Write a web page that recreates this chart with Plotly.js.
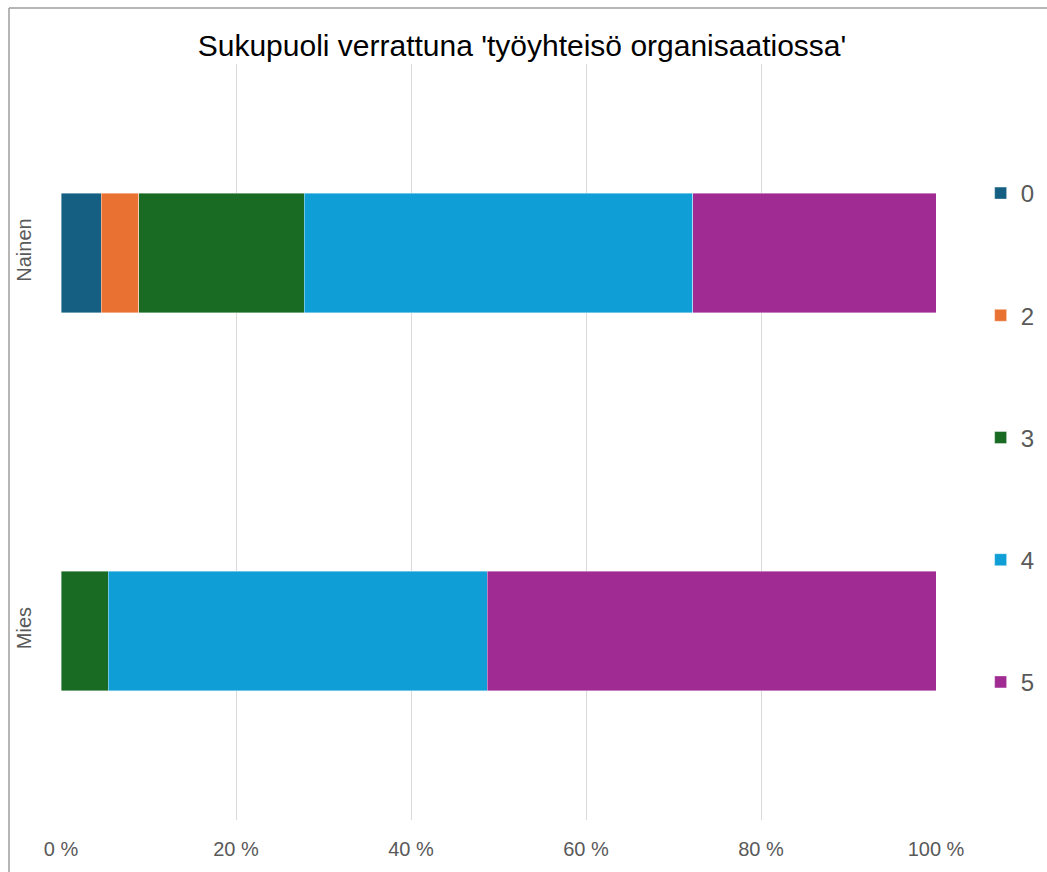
<!DOCTYPE html>
<html>
<head>
<meta charset="utf-8">
<script src="https://cdn.plot.ly/plotly-3.0.1.min.js"></script>
<style>html,body{margin:0;padding:0;background:#fff;}#chart{width:1047px;height:872px;}</style>
</head>
<body>
<div id="chart"></div>
<script>
const categories = ['Nainen', 'Mies'];
const seriesNames = ['0', '2', '3', '4', '5'];
const series0 = [4.6, 0];
const series2 = [4.3, 0];
const series3 = [18.9, 5.4];
const series4 = [44.4, 43.3];
const series5 = [27.8, 51.3];
const colors = ['#156082', '#E97132', '#196B24', '#0F9ED5', '#A02B93'];
const tickVals = [0, 20, 40, 60, 80, 100];
const tickText = ['0 %', '20 %', '40 %', '60 %', '80 %', '100 %'];

const allSeries = [series0, series2, series3, series4, series5];
const traces = allSeries.map((vals, i) => ({
  type: 'bar',
  orientation: 'h',
  name: seriesNames[i],
  y: categories,
  x: vals,
  legendgroup: 'g' + i,
  marker: {color: colors[i], line: {color: 'rgba(255,255,255,0.5)', width: 0.8}},
  hoverinfo: 'x+name'
}));

const sans = '"Liberation Sans", Arial, sans-serif';
const layout = {
  width: 1047,
  height: 872,
  margin: {l: 61, r: 111, t: 64, b: 52, autoexpand: false},
  barmode: 'stack',
  bargap: 0.685,
  paper_bgcolor: '#ffffff',
  plot_bgcolor: '#ffffff',
  title: {
    text: "Sukupuoli verrattuna 'työyhteisö organisaatiossa'",
    font: {family: sans, size: 30, color: '#000000'},
    x: 522/1047, xanchor: 'center', xref: 'container',
    y: 1 - 45/872, yanchor: 'middle', yref: 'container'
  },
  xaxis: {
    range: [0, 100],
    tickvals: tickVals,
    ticktext: tickText,
    showgrid: true,
    gridcolor: '#d9d9d9',
    gridwidth: 1,
    zeroline: false,
    showline: false,
    ticks: '',
    ticklabelstandoff: 15,
    tickfont: {family: sans, size: 20, color: '#595959'},
    fixedrange: true
  },
  yaxis: {
    autorange: 'reversed',
    showgrid: false,
    zeroline: false,
    showline: false,
    ticks: '',
    tickangle: -90,
    ticklabelstandoff: 25,
    tickfont: {family: sans, size: 20, color: '#595959'},
    fixedrange: true
  },
  legend: {
    x: 1.051, xanchor: 'left',
    y: 1 - (171 - 64)/756, yanchor: 'top',
    traceorder: 'grouped',
    tracegroupgap: 88,
    font: {family: sans, size: 24, color: '#595959'},
    itemwidth: 30,
    bgcolor: 'rgba(0,0,0,0)'
  },
  shapes: [
    {type: 'line', xref: 'paper', yref: 'paper', x0: (9 - 61)/875, x1: (9 - 61)/875, y0: (820 - 8)/756, y1: -1, line: {color: '#9e9e9e', width: 1.5}},
    {type: 'line', xref: 'paper', yref: 'paper', x0: (9 - 61)/875, x1: 2, y0: (820 - 8)/756, y1: (820 - 8)/756, line: {color: '#9e9e9e', width: 1.5}}
  ],
  showlegend: true
};

Plotly.newPlot('chart', traces, layout, {displayModeBar: false, staticPlot: true});
</script>
</body>
</html>
